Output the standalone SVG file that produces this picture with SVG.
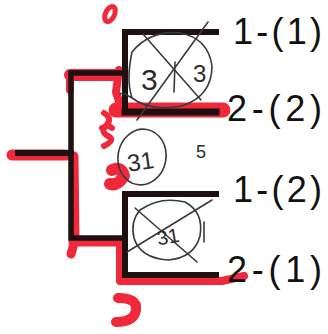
<svg xmlns="http://www.w3.org/2000/svg" width="328" height="334" viewBox="0 0 328 334">
<style>
.red{fill:none;stroke:#f0283a;stroke-linecap:round;stroke-linejoin:round}
.blk{fill:none;stroke:#1e1010;stroke-linecap:square;stroke-linejoin:miter}
.pen{fill:none;stroke:#3a3a3a;stroke-width:1.6;stroke-linecap:round}
.lbl{font-family:"Liberation Sans",Arial,sans-serif;font-size:36px;fill:#111}
.hw{font-family:"Liberation Sans",Arial,sans-serif;fill:#2a2a2a}
</style>
<rect width="328" height="334" fill="#fff"/>
<g id="red-marks">
<path class="red" stroke-width="12" d="M70,75 H116"/>
<path class="red" stroke-width="8" d="M70,78 V90"/>
<path class="red" stroke-width="8" d="M119,70 L116,92 L121,108"/>
<path class="red" stroke-width="15" d="M116,110 H223"/>
<path class="red" stroke-width="11" d="M12,155 H66"/>
<path class="red" stroke-width="9" d="M74,156 L75,240 L71,254"/>
<path class="red" stroke-width="9" d="M73,242 H118"/>
<path class="red" stroke-width="8" d="M120,240 V281 H222 L244,276"/>
<path class="red" stroke-width="6" d="M104,113 Q113,118 106,126 Q100,132 108,136 Q116,140 104,146 M102,128 Q108,124 112,128"/>
<path class="red" stroke-width="12" d="M112,170 Q122,166 124,176 Q118,186 110,184"/>
<ellipse class="red" stroke-width="5" cx="110" cy="14" rx="4.5" ry="8" transform="rotate(25 110 14)"/>
<path class="red" stroke-width="10" d="M118,298 Q138,298 136,310 Q134,322 116,322"/>
</g>
<g id="connectors">
<path class="blk" stroke-width="6" d="M18,153 H71"/>
<path class="blk" stroke-width="5.5" d="M123,73 H71 V238 H123"/>
</g>
<g id="bracket-top">
<path class="blk" stroke-width="6" d="M216,32 H125 V112"/>
<path class="blk" stroke-width="7" d="M125,112 H216"/>
</g>
<g id="bracket-bottom">
<path class="blk" stroke-width="6" d="M216,194 H125 V275 H216"/>
</g>
<g id="match-top">
<path class="pen" d="M132,52 Q150,30 180,33 Q208,38 212,66 Q212,96 182,106 Q150,112 132,98 Q122,92 120,94 M132,98 Q126,80 132,52"/>
<path class="pen" d="M143,34 L201,100"/>
<path class="pen" d="M208,22 L137,120"/>
<text class="hw" x="141" y="90" font-size="30">3</text>
<path class="pen" stroke-width="2" d="M175,62 L174,92"/>
<text class="hw" x="193" y="82" font-size="24">3</text>
</g>
<g id="match-middle">
<ellipse class="pen" cx="142" cy="157" rx="24" ry="28" transform="rotate(10 142 157)"/>
<text class="hw" x="127" y="170" font-size="24" transform="rotate(-8 140 160)">31</text>
<text class="hw" x="196" y="158" font-size="18">5</text>
</g>
<g id="match-bottom">
<path class="pen" d="M140,210 Q160,196 185,202 Q204,212 200,236 Q194,258 168,260 Q140,258 134,238 Q130,222 140,210"/>
<path class="pen" d="M135,208 L197,262"/>
<path class="pen" stroke="#888" d="M127,252 L212,200"/>
<text class="hw" x="156" y="244" font-size="20" transform="rotate(-10 165 232)">31</text>
<path class="pen" stroke-width="2" d="M204,222 L204,242"/>
</g>
<g id="labels">
<text class="lbl" x="233" y="44" textLength="89" lengthAdjust="spacing">1-(1)</text>
<text class="lbl" x="227" y="121" textLength="95" lengthAdjust="spacing">2-(2)</text>
<text class="lbl" x="233" y="202" textLength="89" lengthAdjust="spacing">1-(2)</text>
<text class="lbl" x="227" y="282" textLength="95" lengthAdjust="spacing">2-(1)</text>
</g>
</svg>
